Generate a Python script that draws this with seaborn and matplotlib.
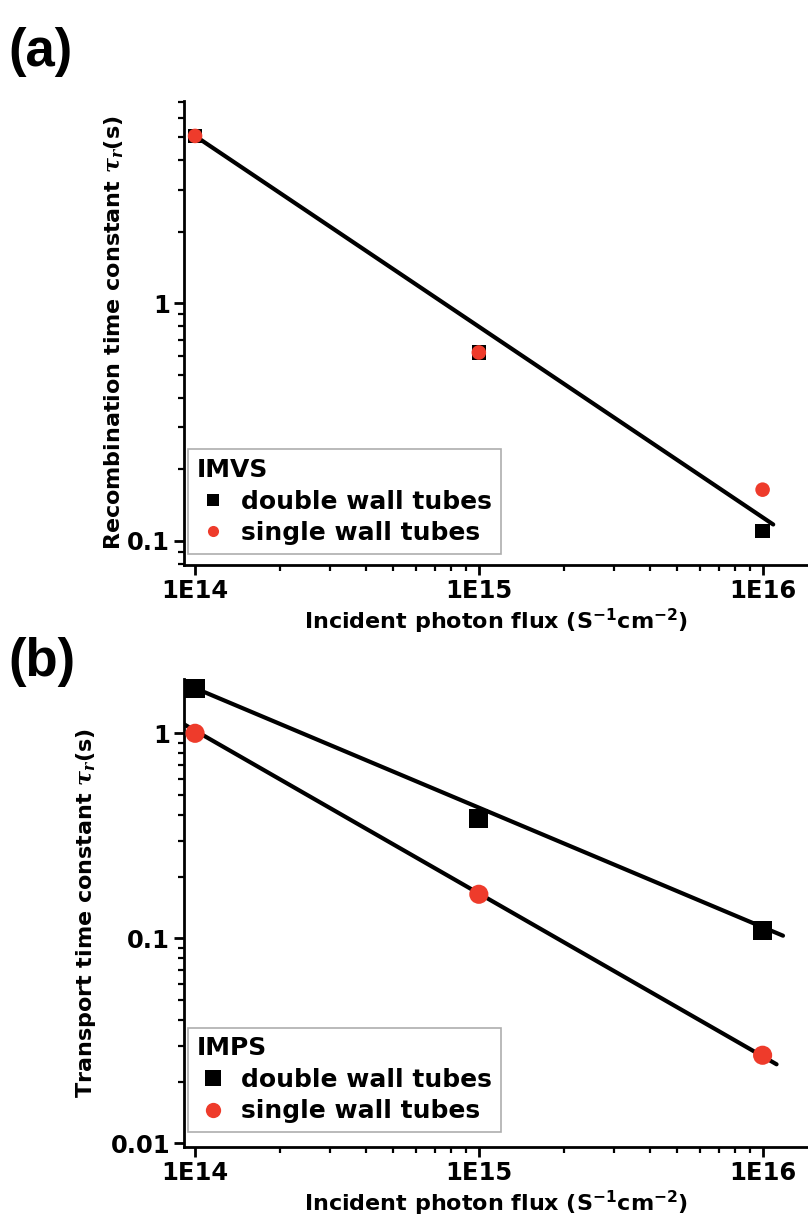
import numpy as np
import pandas as pd
import matplotlib
matplotlib.use("Agg")
import matplotlib.pyplot as plt
import seaborn as sns
from matplotlib.ticker import FixedLocator, LogLocator, NullFormatter, FixedFormatter

sns.set_theme(style="ticks")
plt.rcParams['font.family'] = ['DejaVu Sans']
plt.rcParams['font.weight'] = 'bold'
plt.rcParams['text.color'] = 'black'
plt.rcParams['axes.labelcolor'] = 'black'
plt.rcParams['xtick.color'] = 'black'
plt.rcParams['ytick.color'] = 'black'
plt.rcParams['mathtext.fontset'] = 'custom'
plt.rcParams['mathtext.rm'] = 'DejaVu Sans:bold'
plt.rcParams['mathtext.bf'] = 'DejaVu Sans:bold'
plt.rcParams['mathtext.it'] = 'DejaVu Serif:italic'

# ---------------- data ----------------
flux = [1e14, 1e15, 1e16]
series = ["double wall tubes", "single wall tubes"]

# (a) IMVS recombination time constant (s)
imvs_double = [5.06, 0.62, 0.110]
imvs_single = [5.06, 0.62, 0.164]
# fitted line (read endpoints)
imvs_fit_x = [1e14, 1.09e16]
imvs_fit_y = [5.06, 0.117]

# (b) IMPS transport time constant (s)
imps_double = [1.66, 0.385, 0.109]
imps_single = [1.00, 0.164, 0.0269]
imps_fit_double_x = [1e14, 1.18e16]
imps_fit_double_y = [1.66, 0.103]
imps_fit_single_x = [9.15e13, 1.12e16]
imps_fit_single_y = [1.106, 0.0243]

xticks = [1e14, 1e15, 1e16]
xticklabels = ["1E14", "1E15", "1E16"]
a_yticks = [0.1, 1]
a_yticklabels = ["0.1", "1"]
b_yticks = [0.01, 0.1, 1]
b_yticklabels = ["0.01", "0.1", "1"]

RED = "#EE3B2B"
BLACK = "#000000"
palette = {series[0]: BLACK, series[1]: RED}
markers = {series[0]: "s", series[1]: "o"}

df_a = pd.DataFrame({
    "flux": flux * 2,
    "tau": imvs_double + imvs_single,
    "series": [series[0]] * 3 + [series[1]] * 3,
})
df_b = pd.DataFrame({
    "flux": flux * 2,
    "tau": imps_double + imps_single,
    "series": [series[0]] * 3 + [series[1]] * 3,
})

W, H = 808, 1219
fig = plt.figure(figsize=(W / 100, H / 100), dpi=100)

def ax_rect(left, top, right, bottom):
    return [left / W, 1 - bottom / H, (right - left) / W, (bottom - top) / H]

ax_a = fig.add_axes(ax_rect(184, 101, 808, 565))
ax_b = fig.add_axes(ax_rect(184, 679, 808, 1147))

FS = 16      # axis labels
TFS = 17.5   # tick labels
LFS = 18     # legend

def style_axis(ax, ylim, yticks, yticklabels):
    ax.set_xscale("log")
    ax.set_yscale("log")
    ax.set_xlim(10 ** 13.961, 10 ** 16.16)
    ax.set_ylim(*ylim)
    for s in ["top", "right"]:
        ax.spines[s].set_visible(False)
    for s in ["left", "bottom"]:
        ax.spines[s].set_linewidth(2.0)
        ax.spines[s].set_color("black")
    ax.xaxis.set_major_locator(FixedLocator(xticks))
    ax.xaxis.set_major_formatter(FixedFormatter(xticklabels))
    ax.xaxis.set_minor_locator(LogLocator(base=10, subs=np.arange(2, 10)))
    ax.xaxis.set_minor_formatter(NullFormatter())
    ax.yaxis.set_major_locator(FixedLocator(yticks))
    ax.yaxis.set_major_formatter(FixedFormatter(yticklabels))
    ax.yaxis.set_minor_locator(LogLocator(base=10, subs=np.arange(2, 10)))
    ax.yaxis.set_minor_formatter(NullFormatter())
    ax.tick_params(which="major", direction="out", length=7, width=2.0,
                   labelsize=TFS, color="black", labelcolor="black", pad=3)
    ax.tick_params(which="minor", direction="out", length=4, width=1.6, color="black")
    for lab in ax.get_xticklabels() + ax.get_yticklabels():
        lab.set_fontweight("bold")
    ax.set_facecolor("white")

def make_legend(ax, title, msize, anchor):
    h, l = ax.get_legend_handles_labels()
    for hh in h:
        hh.set_markersize(msize)
    leg = ax.legend(h, l, title=title, loc="lower left",
                    bbox_to_anchor=anchor, borderaxespad=0,
                    frameon=True, fancybox=False, edgecolor="#999999",
                    prop={"size": LFS, "weight": "bold"}, handletextpad=0.5,
                    handlelength=1.3, borderpad=0.35, labelspacing=0.3)
    leg.get_title().set_fontsize(LFS)
    leg.get_title().set_fontweight("bold")
    leg.get_title().set_color("black")
    for t in leg.get_texts():
        t.set_color("black")
    leg._legend_box.align = "left"
    leg.get_frame().set_linewidth(1.2)
    return leg

# ---------------- panel (a) ----------------
fit_a = pd.DataFrame({"x": imvs_fit_x, "y": imvs_fit_y})
sns.lineplot(data=fit_a, x="x", y="y", ax=ax_a, color="black", lw=3.0, legend=False)
sns.scatterplot(data=df_a, x="flux", y="tau", hue="series", style="series",
                palette=palette, markers=markers, ax=ax_a, s=110, linewidth=0,
                zorder=3)
style_axis(ax_a, (0.079, 7.1), a_yticks, a_yticklabels)
ax_a.set_xlabel(r"Incident photon flux (S$^{\mathbf{-1}}$cm$^{\mathbf{-2}}$)",
                fontsize=FS, fontweight="bold", labelpad=3)
ax_a.set_ylabel(r"Recombination time constant $\tau_r$(s)",
                fontsize=FS, fontweight="bold", labelpad=1)
make_legend(ax_a, "IMVS", 8, (0.006, 0.024))

# ---------------- panel (b) ----------------
fit_b1 = pd.DataFrame({"x": imps_fit_double_x, "y": imps_fit_double_y})
fit_b2 = pd.DataFrame({"x": imps_fit_single_x, "y": imps_fit_single_y})
sns.lineplot(data=fit_b1, x="x", y="y", ax=ax_b, color="black", lw=3.0, legend=False)
sns.lineplot(data=fit_b2, x="x", y="y", ax=ax_b, color="black", lw=3.0, legend=False)
sns.scatterplot(data=df_b, x="flux", y="tau", hue="series", style="series",
                palette=palette, markers=markers, ax=ax_b, s=190, linewidth=0,
                zorder=3, clip_on=False)
style_axis(ax_b, (0.0096, 1.84), b_yticks, b_yticklabels)
ax_b.set_xlabel(r"Incident photon flux (S$^{\mathbf{-1}}$cm$^{\mathbf{-2}}$)",
                fontsize=FS, fontweight="bold", labelpad=3)
ax_b.set_ylabel(r"Transport time constant $\tau_r$(s)",
                fontsize=FS, fontweight="bold", labelpad=9)
make_legend(ax_b, "IMPS", 11, (0.006, 0.032))

fig.text(8 / W, 1 - 66 / H, "(a)", fontsize=38, fontweight="bold", ha="left",
         va="baseline", family=["Liberation Sans", "DejaVu Sans"], color="black")
fig.text(8 / W, 1 - 676 / H, "(b)", fontsize=38, fontweight="bold", ha="left",
         va="baseline", family=["Liberation Sans", "DejaVu Sans"], color="black")

fig.savefig("out.png", dpi=100, facecolor="white")
